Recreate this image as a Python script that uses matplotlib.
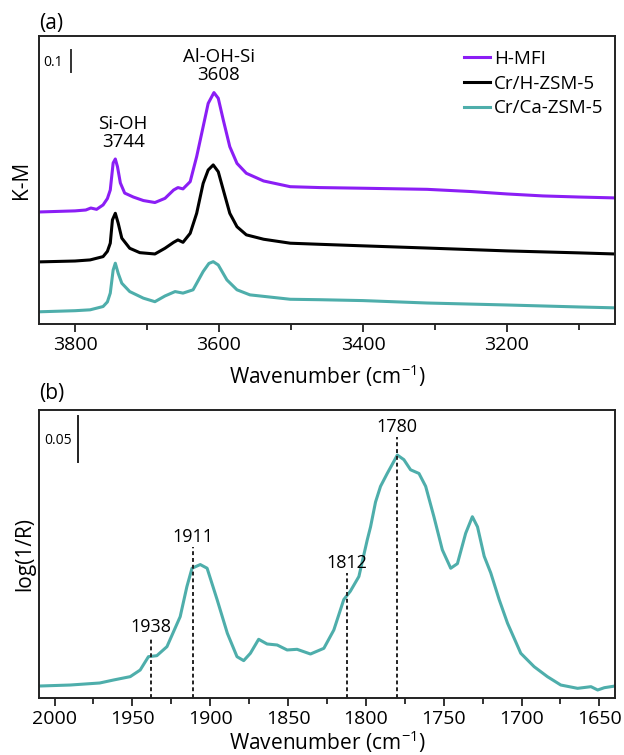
import numpy as np
import matplotlib
matplotlib.use("Agg")
import matplotlib.pyplot as plt
import matplotlib.ticker as ticker
from matplotlib.transforms import blended_transform_factory

plt.rcParams["font.family"] = ["Open Sans", "DejaVu Sans"]
plt.rcParams["mathtext.fontset"] = "custom"
plt.rcParams["mathtext.rm"] = "Open Sans"

# ---- (a) OH stretching region, K-M units ----
WN_HMFI = [3850, 3800, 3785, 3778, 3770, 3761, 3755, 3751, 3747, 3744, 3741,
           3737, 3731, 3719, 3705, 3689, 3675, 3663, 3657, 3650, 3640, 3631,
           3622, 3615, 3607, 3601, 3594, 3585, 3575, 3562, 3538, 3501, 3460,
           3400, 3311, 3250, 3200, 3150, 3100, 3050]
KM_HMFI = [0.509, 0.514, 0.518, 0.527, 0.521, 0.541, 0.570, 0.609, 0.732,
           0.750, 0.715, 0.641, 0.595, 0.577, 0.561, 0.552, 0.571, 0.609,
           0.620, 0.614, 0.647, 0.761, 0.897, 1.003, 1.052, 1.026, 0.927,
           0.806, 0.730, 0.685, 0.650, 0.624, 0.620, 0.617, 0.612, 0.602,
           0.591, 0.582, 0.577, 0.573]

WN_CRH = [3850, 3800, 3779, 3761, 3755, 3751, 3748, 3744, 3740, 3735, 3724,
          3710, 3689, 3675, 3663, 3657, 3650, 3640, 3631, 3622, 3615, 3608,
          3601, 3594, 3585, 3575, 3562, 3538, 3501, 3460, 3400, 3311, 3200,
          3100, 3050]
KM_CRH = [0.282, 0.286, 0.291, 0.306, 0.330, 0.367, 0.473, 0.503, 0.458,
          0.390, 0.344, 0.324, 0.318, 0.344, 0.371, 0.382, 0.371, 0.412,
          0.503, 0.639, 0.700, 0.723, 0.692, 0.609, 0.503, 0.442, 0.405,
          0.385, 0.367, 0.362, 0.355, 0.345, 0.332, 0.323, 0.318]

WN_CRCA = [3850, 3800, 3779, 3761, 3755, 3751, 3747, 3744, 3740, 3735, 3724,
           3705, 3689, 3675, 3661, 3650, 3636, 3622, 3614, 3608, 3601, 3589,
           3575, 3557, 3501, 3460, 3400, 3311, 3200, 3100, 3050]
KM_CRCA = [0.055, 0.060, 0.064, 0.079, 0.100, 0.140, 0.245, 0.276, 0.230,
           0.185, 0.147, 0.117, 0.101, 0.127, 0.147, 0.140, 0.155, 0.238,
           0.275, 0.283, 0.268, 0.200, 0.155, 0.132, 0.112, 0.110, 0.106,
           0.095, 0.086, 0.077, 0.073]

LABELS_A = ["H-MFI", "Cr/H-ZSM-5", "Cr/Ca-ZSM-5"]
COLORS_A = ["#8b1ef5", "#000000", "#4eaeab"]

# ---- (b) CO region on Cr/Ca-ZSM-5 ----
WN_B = [2010, 1990, 1971, 1962, 1951.4, 1945, 1939.7, 1934.3, 1927.8,
        1919.3, 1915, 1911.7, 1906.4, 1902, 1895.6, 1889, 1882.8, 1878.5,
        1874.2, 1868.9, 1863.5, 1857, 1850.6, 1844.2, 1835.6, 1827, 1820.6,
        1814.2, 1810, 1804.5, 1799.1, 1797, 1793.8, 1790.6, 1786.3, 1779.8,
        1775.6, 1771.3, 1765.9, 1761.6, 1756.3, 1750.9, 1745.5, 1741.2,
        1735.9, 1731.6, 1728.3, 1724, 1719.8, 1714.4, 1709, 1700.5, 1691.9,
        1683.4, 1674.8, 1664, 1655.4, 1651.1, 1646.8, 1640]
LOGR_B = [0.0130, 0.0141, 0.0163, 0.0196, 0.0232, 0.0304, 0.0449, 0.0460,
          0.0558, 0.0884, 0.121, 0.141, 0.145, 0.141, 0.107, 0.0703, 0.0449,
          0.0406, 0.0486, 0.0638, 0.0587, 0.0576, 0.0522, 0.0529, 0.0478,
          0.0540, 0.0739, 0.107, 0.116, 0.132, 0.172, 0.186, 0.213, 0.230,
          0.244, 0.264, 0.259, 0.248, 0.244, 0.230, 0.197, 0.161, 0.141,
          0.146, 0.179, 0.197, 0.186, 0.154, 0.136, 0.107, 0.0812, 0.0486,
          0.0340, 0.0232, 0.0141, 0.0105, 0.0123, 0.0087, 0.0112, 0.0130]

PEAKS_B = [1938, 1911, 1812, 1780]
PEAK_TOPS_B = [0.0663, 0.164, 0.136, 0.284]

fig = plt.figure(figsize=(6.24, 7.55), dpi=100)
ax_a = fig.add_axes([0.0625, 0.571, 0.923, 0.3815])
ax_b = fig.add_axes([0.0625, 0.0755, 0.923, 0.3815])

spine_c = "#222222"
for ax, lpad in ((ax_a, 6), (ax_b, 0)):
    for s in ax.spines.values():
        s.set_linewidth(1.4)
        s.set_color(spine_c)
    ax.tick_params(axis="x", which="major", direction="out", length=6,
                   width=1.3, labelsize=14, colors=spine_c, pad=3)
    ax.tick_params(axis="x", which="minor", direction="out", length=4,
                   width=1.3, colors=spine_c)
    ax.tick_params(axis="y", left=False, labelleft=False)
    ax.tick_params(axis="x", labelcolor="black")
    ax.set_xlabel("Wavenumber (cm$^{-1}$)", fontsize=15, labelpad=lpad)

# panel (a)
series_a = [(WN_HMFI, KM_HMFI), (WN_CRH, KM_CRH), (WN_CRCA, KM_CRCA)]
for (wn, km), lab, col in zip(series_a, LABELS_A, COLORS_A):
    ax_a.plot(wn, km, color=col, lw=2.2, label=lab, solid_joinstyle="round")
ax_a.set_xlim(3850, 3050)
ax_a.set_ylim(0, 1.31)
ax_a.xaxis.set_major_locator(ticker.MultipleLocator(200))
ax_a.xaxis.set_minor_locator(ticker.MultipleLocator(100))
ax_a.set_ylabel("K-M", fontsize=15, labelpad=5)

ax_a.text(3733, 0.868, "Si-OH\n3744", ha="center", va="center",
          fontsize=13.5, linespacing=1.0)
ax_a.text(3600, 1.175, "Al-OH-Si\n3608", ha="center", va="center",
          fontsize=13.5, linespacing=1.0)

tr_a = blended_transform_factory(ax_a.transAxes, ax_a.transData)
ax_a.plot([0.0556, 0.0556], [1.145, 1.245], color="#333333", lw=1.4,
          transform=tr_a)
ax_a.text(0.041, 1.19, "0.1", ha="right", va="center", fontsize=10,
          transform=tr_a)

leg = ax_a.legend(loc="upper right", bbox_to_anchor=(1.0, 0.99),
                  frameon=False, fontsize=13.5, handlelength=1.4,
                  handletextpad=0.2, labelspacing=0.35, borderaxespad=0.2)

# panel (b)
ax_b.plot(WN_B, LOGR_B, color=COLORS_A[2], lw=2.2, solid_joinstyle="round")
ax_b.set_xlim(2010, 1640)
ax_b.set_ylim(0, 0.313)
ax_b.xaxis.set_major_locator(ticker.MultipleLocator(50))
ax_b.xaxis.set_minor_locator(ticker.MultipleLocator(25))
ax_b.set_ylabel("log(1/R)", fontsize=15, labelpad=3)

for wn, top in zip(PEAKS_B, PEAK_TOPS_B):
    ax_b.vlines(wn, 0, top, colors="#222222", linestyles=(0, (2, 1.5)),
                lw=1.4)
    ax_b.text(wn, top + 0.001, f"{wn}", ha="center", va="bottom",
              fontsize=13)

tr_b = blended_transform_factory(ax_b.transAxes, ax_b.transData)
ax_b.plot([0.0677, 0.0677], [0.2565, 0.3065], color="#222222", lw=1.4,
          transform=tr_b)
ax_b.text(0.057, 0.280, "0.05", ha="right", va="center", fontsize=10,
          transform=tr_b)

fig.text(0.0625, 1 - 23 / 755, "(a)", fontsize=15, ha="left", va="center")
fig.text(0.0625, 1 - 393 / 755, "(b)", fontsize=15, ha="left", va="center")

fig.savefig("out.png", dpi=100)
